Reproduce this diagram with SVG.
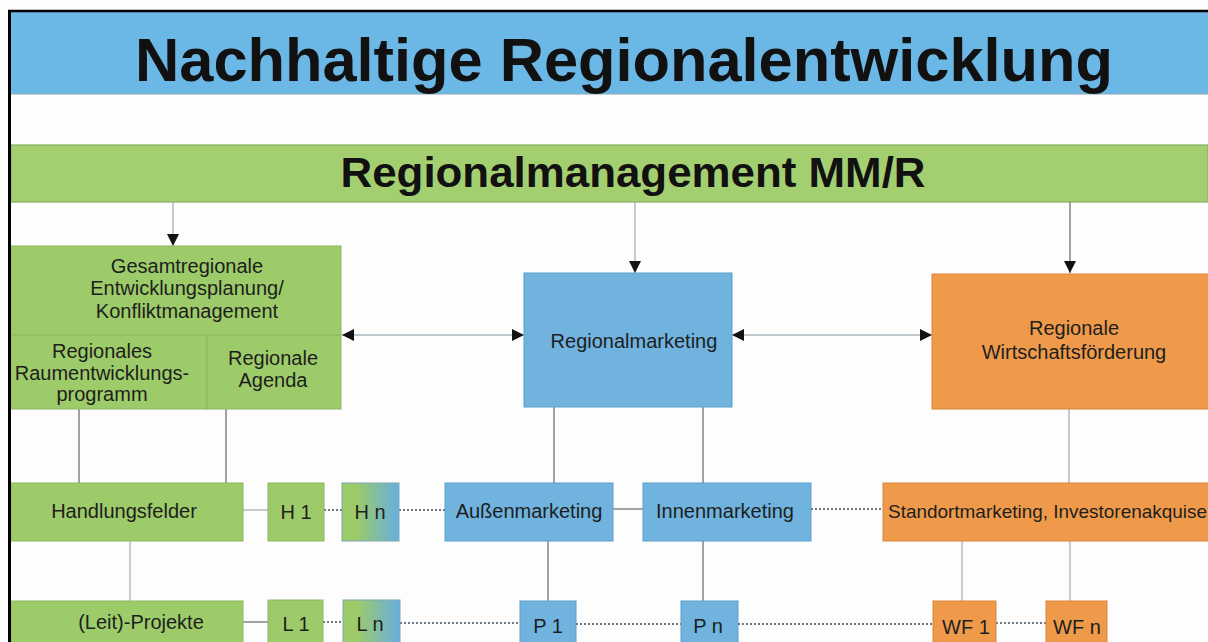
<svg xmlns="http://www.w3.org/2000/svg" width="1208" height="642" viewBox="0 0 1208 642">
<style>
text{font-family:"Liberation Sans",Arial,sans-serif;fill:#1e1e1e}
.t{font-size:20px;text-anchor:middle}
.g{fill:#9dcb69;stroke:#8cb860;stroke-width:1}
.b{fill:#6fb3de;stroke:#5f9fc8;stroke-width:1}
.o{fill:#ee9a4a;stroke:#d9863a;stroke-width:1}
.ln{stroke:#7b7b7b;stroke-width:1.4;fill:none}
.lt{stroke:#a9b7bd;stroke-width:1.4;fill:none}
.dt{stroke:#3d4d5c;stroke-width:1.6;fill:none;stroke-dasharray:2 2}
</style>
<defs>
<marker id="ah" viewBox="0 0 10 10" refX="10" refY="5" markerWidth="12" markerHeight="12" markerUnits="userSpaceOnUse" orient="auto-start-reverse">
<path d="M0,0 L10,5 L0,10 z" fill="#111"/>
</marker>
<linearGradient id="gb" x1="0" y1="0" x2="1" y2="0">
<stop offset="0.25" stop-color="#9dcb69"/>
<stop offset="1" stop-color="#66aee0"/>
</linearGradient>
</defs>
<rect width="1208" height="642" fill="#fdfdfd"/>

<g id="title">
<rect x="11" y="12" width="1197" height="82" fill="#6bb7e5"/>
<line x1="11" y1="94" x2="1208" y2="94" stroke="#8aa6b8" stroke-width="1"/>
<text x="624" y="81" font-size="61" font-weight="bold" text-anchor="middle" textLength="978" lengthAdjust="spacingAndGlyphs" style="fill:#111">Nachhaltige Regionalentwicklung</text>
</g>

<g id="regionalmanagement">
<rect x="11" y="145" width="1197" height="57" fill="#a4cf71" stroke="#86ad5b" stroke-width="1.2"/>
<text x="633" y="187" font-size="43" font-weight="bold" text-anchor="middle" textLength="585" lengthAdjust="spacingAndGlyphs" style="fill:#111">Regionalmanagement MM/R</text>
</g>

<g id="connectors">
<line class="lt" x1="173" y1="202" x2="173" y2="246" marker-end="url(#ah)"/>
<line class="lt" x1="635" y1="202" x2="635" y2="273" marker-end="url(#ah)"/>
<line class="ln" x1="1070" y1="202" x2="1070" y2="273" marker-end="url(#ah)"/>
<line class="lt" x1="342" y1="335" x2="524" y2="335" marker-start="url(#ah)" marker-end="url(#ah)"/>
<line class="lt" x1="732" y1="335" x2="932" y2="335" marker-start="url(#ah)" marker-end="url(#ah)"/>
<line class="ln" x1="79" y1="409" x2="79" y2="483"/>
<line class="ln" x1="226" y1="409" x2="226" y2="483"/>
<line class="ln" x1="554" y1="407" x2="554" y2="483"/>
<line class="ln" x1="703" y1="407" x2="703" y2="483"/>
<line class="lt" x1="1069" y1="409" x2="1069" y2="483"/>
<line class="lt" x1="243" y1="510" x2="268" y2="510"/>
<line class="dt" x1="324" y1="510" x2="342" y2="510"/>
<line class="dt" x1="399" y1="510" x2="445" y2="510"/>
<line class="ln" x1="613" y1="509" x2="643" y2="509"/>
<line class="dt" x1="811" y1="509" x2="883" y2="509"/>
<line class="lt" x1="130" y1="541" x2="130" y2="601"/>
<line class="ln" x1="548" y1="541" x2="548" y2="601"/>
<line class="ln" x1="703" y1="541" x2="703" y2="601"/>
<line class="lt" x1="962" y1="541" x2="962" y2="601"/>
<line class="lt" x1="1070" y1="541" x2="1070" y2="601"/>
<line class="ln" x1="243" y1="622" x2="268" y2="622"/>
<line class="dt" x1="323" y1="622" x2="343" y2="622"/>
<line class="dt" x1="400" y1="623" x2="520" y2="623"/>
<line class="dt" x1="576" y1="624" x2="681" y2="624"/>
<line class="dt" x1="738" y1="624" x2="933" y2="624"/>
<line class="dt" x1="996" y1="623" x2="1046" y2="623"/>
</g>

<g id="gesamt">
<rect class="g" x="11" y="246" width="330" height="89"/>
<text class="t" x="187" y="273">Gesamtregionale</text>
<text class="t" x="187" y="295">Entwicklungsplanung/</text>
<text class="t" x="187" y="318">Konfliktmanagement</text>
</g>
<g id="raumentwicklung">
<rect class="g" x="11" y="335" width="196" height="74"/>
<text class="t" x="102" y="358">Regionales</text>
<text class="t" x="102" y="380">Raumentwicklungs-</text>
<text class="t" x="102" y="401">programm</text>
</g>
<g id="agenda">
<rect class="g" x="207" y="335" width="134" height="74"/>
<text class="t" x="273" y="365">Regionale</text>
<text class="t" x="273" y="387">Agenda</text>
</g>
<g id="regionalmarketing">
<rect class="b" x="524" y="273" width="208" height="134"/>
<text class="t" x="634" y="348">Regionalmarketing</text>
</g>
<g id="wirtschaft">
<rect class="o" x="932" y="274" width="280" height="135"/>
<text class="t" x="1074" y="335">Regionale</text>
<text class="t" x="1074" y="359">Wirtschaftsförderung</text>
</g>

<g id="handlungsfelder">
<rect class="g" x="11" y="483" width="232" height="58"/>
<text class="t" x="124" y="518">Handlungsfelder</text>
</g>
<g id="h1">
<rect class="g" x="268" y="483" width="56" height="58"/>
<text class="t" x="296" y="519">H 1</text>
</g>
<g id="hn">
<rect x="342" y="483" width="57" height="58" fill="url(#gb)" stroke="#7fa8b0" stroke-width="1"/>
<text class="t" x="370" y="519">H n</text>
</g>
<g id="aussen">
<rect class="b" x="445" y="483" width="168" height="58"/>
<text class="t" x="529" y="518">Außenmarketing</text>
</g>
<g id="innen">
<rect class="b" x="643" y="483" width="168" height="58"/>
<text class="t" x="725" y="518">Innenmarketing</text>
</g>
<g id="standort">
<rect class="o" x="883" y="483" width="330" height="58"/>
<text x="888" y="518" font-size="19" textLength="319" lengthAdjust="spacingAndGlyphs">Standortmarketing, Investorenakquise</text>
</g>

<g id="leitprojekte">
<rect class="g" x="11" y="601" width="232" height="50"/>
<text class="t" x="141" y="629">(Leit)-Projekte</text>
</g>
<g id="l1">
<rect class="g" x="268" y="600" width="55" height="50"/>
<text class="t" x="296" y="631">L 1</text>
</g>
<g id="ln">
<rect x="343" y="600" width="57" height="50" fill="url(#gb)" stroke="#7fa8b0" stroke-width="1"/>
<text class="t" x="370" y="631">L n</text>
</g>
<g id="p1">
<rect class="b" x="520" y="601" width="56" height="50"/>
<text class="t" x="548" y="633">P 1</text>
</g>
<g id="pn">
<rect class="b" x="681" y="601" width="57" height="50"/>
<text class="t" x="708" y="633">P n</text>
</g>
<g id="wf1">
<rect class="o" x="933" y="601" width="63" height="50"/>
<text class="t" x="966" y="634">WF 1</text>
</g>
<g id="wfn">
<rect class="o" x="1046" y="601" width="61" height="50"/>
<text class="t" x="1077" y="634">WF n</text>
</g>

<g id="frame">
<line x1="9.5" y1="10" x2="9.5" y2="642" stroke="#000" stroke-width="3"/>
<line x1="8" y1="11" x2="1208" y2="11" stroke="#000" stroke-width="2.5"/>
</g>
</svg>
